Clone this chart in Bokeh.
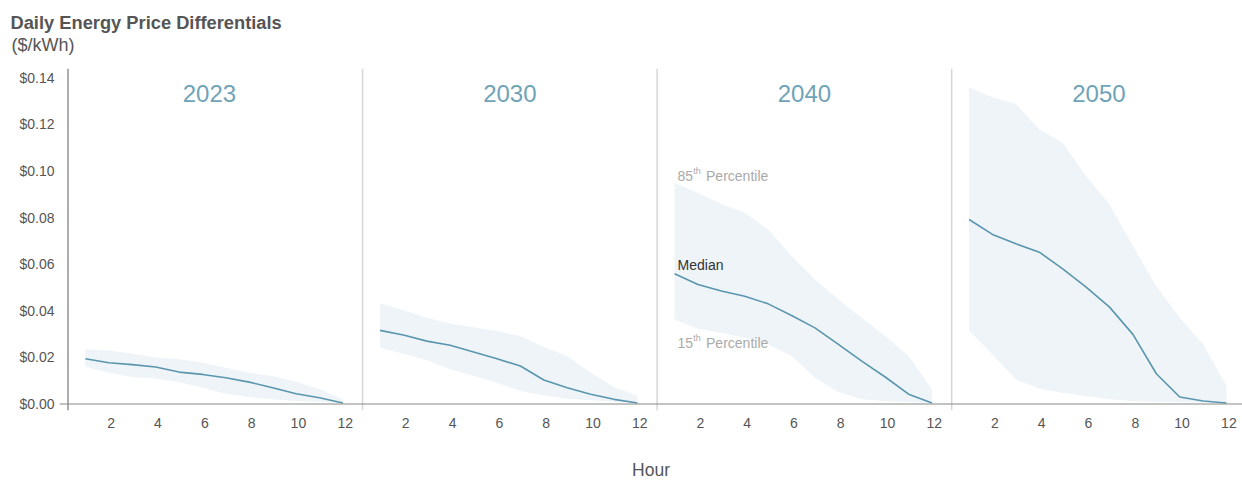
from bokeh.plotting import figure
from bokeh.models import Range1d, Span, FixedTicker, NumeralTickFormatter, Title
from bokeh.core.properties import value
from bokeh.embed import file_html
from bokeh.resources import INLINE

# ---------------- data ----------------
hours = list(range(1, 13))
years = ["2023", "2030", "2040", "2050"]
x_tick_hours = [2, 4, 6, 8, 10, 12]
y_ticks = [0.0, 0.02, 0.04, 0.06, 0.08, 0.10, 0.12, 0.14]

median_2023 = [0.0194, 0.0177, 0.0169, 0.0159, 0.0137, 0.0127, 0.0113, 0.0094, 0.0070, 0.0044, 0.0027, 0.0004]
p85_2023 = [0.0235, 0.0230, 0.0216, 0.0200, 0.0192, 0.0177, 0.0156, 0.0134, 0.0120, 0.0096, 0.0063, 0.0020]
p15_2023 = [0.0160, 0.0134, 0.0116, 0.0109, 0.0094, 0.0070, 0.0044, 0.0030, 0.0020, 0.0013, 0.0010, 0.0004]

median_2030 = [0.0316, 0.0296, 0.0270, 0.0252, 0.0223, 0.0194, 0.0163, 0.0103, 0.0070, 0.0042, 0.0020, 0.0004]
p85_2030 = [0.0432, 0.0402, 0.0370, 0.0346, 0.0330, 0.0313, 0.0292, 0.0245, 0.0206, 0.0134, 0.0073, 0.0034]
p15_2030 = [0.0242, 0.0216, 0.0189, 0.0149, 0.0120, 0.0091, 0.0056, 0.0037, 0.0023, 0.0016, 0.0010, 0.0004]

median_2040 = [0.0559, 0.0513, 0.0485, 0.0463, 0.0430, 0.0380, 0.0327, 0.0256, 0.0184, 0.0116, 0.0042, 0.0004]
p85_2040 = [0.0949, 0.0906, 0.0859, 0.0821, 0.0749, 0.0635, 0.0535, 0.0449, 0.0370, 0.0292, 0.0206, 0.0063]
p15_2040 = [0.0363, 0.0323, 0.0306, 0.0284, 0.0256, 0.0206, 0.0113, 0.0051, 0.0020, 0.0013, 0.0009, 0.0004]

median_2050 = [0.0792, 0.0728, 0.0688, 0.0652, 0.0580, 0.0502, 0.0416, 0.0299, 0.0130, 0.0030, 0.0013, 0.0004]
p85_2050 = [0.1360, 0.1317, 0.1288, 0.1178, 0.1121, 0.0978, 0.0856, 0.0678, 0.0506, 0.0370, 0.0256, 0.0077]
p15_2050 = [0.0316, 0.0213, 0.0106, 0.0066, 0.0048, 0.0034, 0.0020, 0.0013, 0.0010, 0.0007, 0.0006, 0.0004]

medians = [median_2023, median_2030, median_2040, median_2050]
p85s = [p85_2023, p85_2030, p85_2040, p85_2050]
p15s = [p15_2023, p15_2030, p15_2040, p15_2050]

# ---------------- style / layout ----------------
FONT = "Liberation Sans"
GREY = "#555555"
LINE = "#5a96ae"
BAND = "#eef4f7"
YEAR = "#6fa3b8"
PANEL_W = 12.585          # width of one panel in hour units
HOUR_SHIFT = -0.256       # offset of hour h inside its panel
TICK_SHIFT = 0.1          # small shift of tick labels relative to the data

def xpos(k, h):
    return k * PANEL_W + h + HOUR_SHIFT

p = figure(width=1242, height=483, output_backend="svg", toolbar_location=None,
           x_range=Range1d(-0.363, 4 * PANEL_W - 0.16),
           y_range=Range1d(-0.00279, 0.14404),
           min_border_left=59, min_border_right=0, min_border_top=68, min_border_bottom=73)
p.outline_line_color = None
p.grid.visible = False
p.background_fill_color = "white"
p.border_fill_color = "white"

# bands and medians
for k in range(4):
    xs = [xpos(k, h) for h in hours]
    p.varea(x=xs, y1=p15s[k], y2=p85s[k], fill_color=BAND, fill_alpha=1.0)
for k in range(4):
    xs = [xpos(k, h) for h in hours]
    p.line(x=xs, y=medians[k], line_color=LINE, line_width=1.6)

# separators, y axis line and baseline
for k in range(1, 4):
    p.add_layout(Span(location=k * PANEL_W, dimension="height", line_color="#d6d6d6", line_width=1.5))
p.add_layout(Span(location=0, dimension="height", line_color="#777777", line_width=1.2))
p.add_layout(Span(location=0, dimension="width", line_color="#888888", line_width=1.2))

# year labels
year_x = [k * PANEL_W + PANEL_W / 2 for k in range(4)]
year_x[0] -= 0.25
p.text(x=year_x, y=[0.1331] * 4, text=years,
       text_align="center", text_baseline="middle", text_font_size="24px",
       text_color=YEAR, text_font=value(FONT))

# annotations in the 2040 panel
ax = xpos(2, hours[0])
for ty, num, col in [(0.0978, "85", "#aaaaaa"), (0.0262, "15", "#aaaaaa")]:
    p.text(x=[ax], y=[ty], text=[num], x_offset=3, text_baseline="middle",
           text_font_size="14px", text_color=col, text_font=value(FONT))
    p.text(x=[ax], y=[ty], text=["th"], x_offset=18.6, y_offset=-5, text_baseline="middle",
           text_font_size="9px", text_color=col, text_font=value(FONT))
    p.text(x=[ax], y=[ty], text=["Percentile"], x_offset=31.5, text_baseline="middle",
           text_font_size="14px", text_color=col, text_font=value(FONT))
p.text(x=[ax], y=[0.0596], text=["Median"], x_offset=3, text_baseline="middle",
       text_font_size="14px", text_color="#333333", text_font=value(FONT))

# axes
p.yaxis.ticker = FixedTicker(ticks=y_ticks)
p.yaxis.formatter = NumeralTickFormatter(format="$0.00")
p.yaxis.axis_line_color = None
p.yaxis.major_tick_line_color = None
p.yaxis.minor_tick_line_color = None
p.yaxis.major_tick_out = 0
p.yaxis.major_label_standoff = 5
p.yaxis.major_label_text_font = FONT
p.yaxis.major_label_text_font_size = "14px"
p.yaxis.major_label_text_color = GREY

tick_pos = [xpos(k, h) + TICK_SHIFT for k in range(4) for h in x_tick_hours]
tick_lab = [str(h) for k in range(4) for h in x_tick_hours]
p.xaxis.ticker = FixedTicker(ticks=tick_pos)
p.xaxis.major_label_overrides = {t: l for t, l in zip(tick_pos, tick_lab)}
p.xaxis.axis_line_color = None
p.xaxis.major_tick_line_color = None
p.xaxis.minor_tick_line_color = None
p.xaxis.major_tick_out = 0
p.xaxis.major_label_standoff = 7
p.xaxis.major_label_text_font = FONT
p.xaxis.major_label_text_font_size = "14px"
p.xaxis.major_label_text_color = GREY
p.xaxis.axis_label = "Hour"
p.xaxis.axis_label_text_font = FONT
p.xaxis.axis_label_text_font_size = "17.5px"
p.xaxis.axis_label_text_font_style = "normal"
p.xaxis.axis_label_text_color = GREY
p.xaxis.axis_label_standoff = 29

# titles
p.add_layout(Title(text="($/kWh)", text_font=FONT, text_font_size="18px", text_font_style="normal",
                   text_color=GREY, align="left", offset=-48, standoff=28), "above")
p.add_layout(Title(text="Daily Energy Price Differentials", text_font=FONT, text_font_size="18.3px",
                   text_font_style="bold", text_color=GREY, align="left", offset=-49, standoff=-28), "above")

open("out.html", "w").write(file_html(p, INLINE))
